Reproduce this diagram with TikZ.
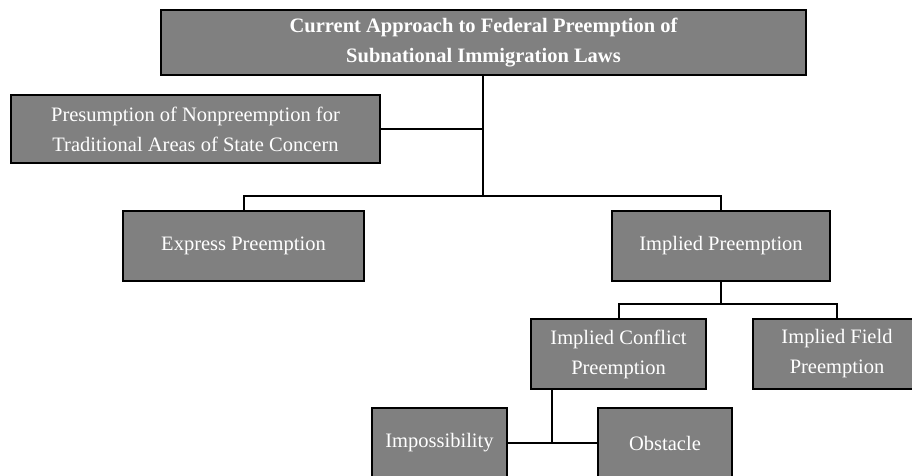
\documentclass[tikz,border=0pt]{standalone}
\usepackage{fontspec}
\setmainfont{Liberation Serif}
\usepackage{xcolor}
\definecolor{BoxGray}{HTML}{808080}
\usepackage{tikz}
\usetikzlibrary{positioning,calc}
\tikzset{
  orgbox/.style={draw=black, fill=BoxGray, text=white, align=center, line width=1.5pt,
                 font=\fontsize{20.5}{30}\selectfont, inner sep=0pt},
  orgline/.style={line width=2pt, black}
}

\begin{document}
\begin{tikzpicture}[x=1pt, y=-1pt]
\useasboundingbox (0,0) rectangle (912,475);
\clip (0,0) rectangle (912,475);
\node[orgbox, minimum width=645pt, minimum height=65pt, font=\fontsize{20.5}{30}\selectfont\bfseries] (top) at (483.5,42.5) {Current Approach to Federal Preemption of\\Subnational Immigration Laws};
\node[orgbox, minimum width=369pt, minimum height=68pt] (presume) at (195.5,129) {Presumption of Nonpreemption for\\Traditional Areas of State Concern};
\node[orgbox, minimum width=241pt, minimum height=70pt] (express) at (243.5,246) {Express Preemption};
\node[orgbox, minimum width=218pt, minimum height=70pt] (implied) at (721,246) {Implied Preemption};
\node[orgbox, minimum width=175pt, minimum height=70pt] (conflict) at (618.5,354) {Implied Conflict\\Preemption};
\node[orgbox, minimum width=168pt, minimum height=70pt] (field) at (837,354) {Implied Field\\Preemption};
\node[orgbox, minimum width=135pt, minimum height=70pt] (imposs) at (439.5,443) {Impossibility};
\node[orgbox, minimum width=134pt, minimum height=70pt] (obstacle) at (665,443) {Obstacle};
% joints
\coordinate (split) at (483,196);
\coordinate (isplit) at (721,304);
\coordinate (cjoin) at (552,443);
% connectors
\draw[orgline] (top.south -| split) -- (split);
\draw[orgline] (presume.east) -- (presume.east -| split);
\draw[orgline] (express.north) |- (split) -| (implied.north);
\draw[orgline] (implied.south) -- (isplit);
\draw[orgline] (conflict.north) |- (isplit) -| (field.north);
\draw[orgline] (conflict.south -| cjoin) -- (cjoin);
\draw[orgline] (imposs.east) -- (obstacle.west);
\end{tikzpicture}
\end{document}
